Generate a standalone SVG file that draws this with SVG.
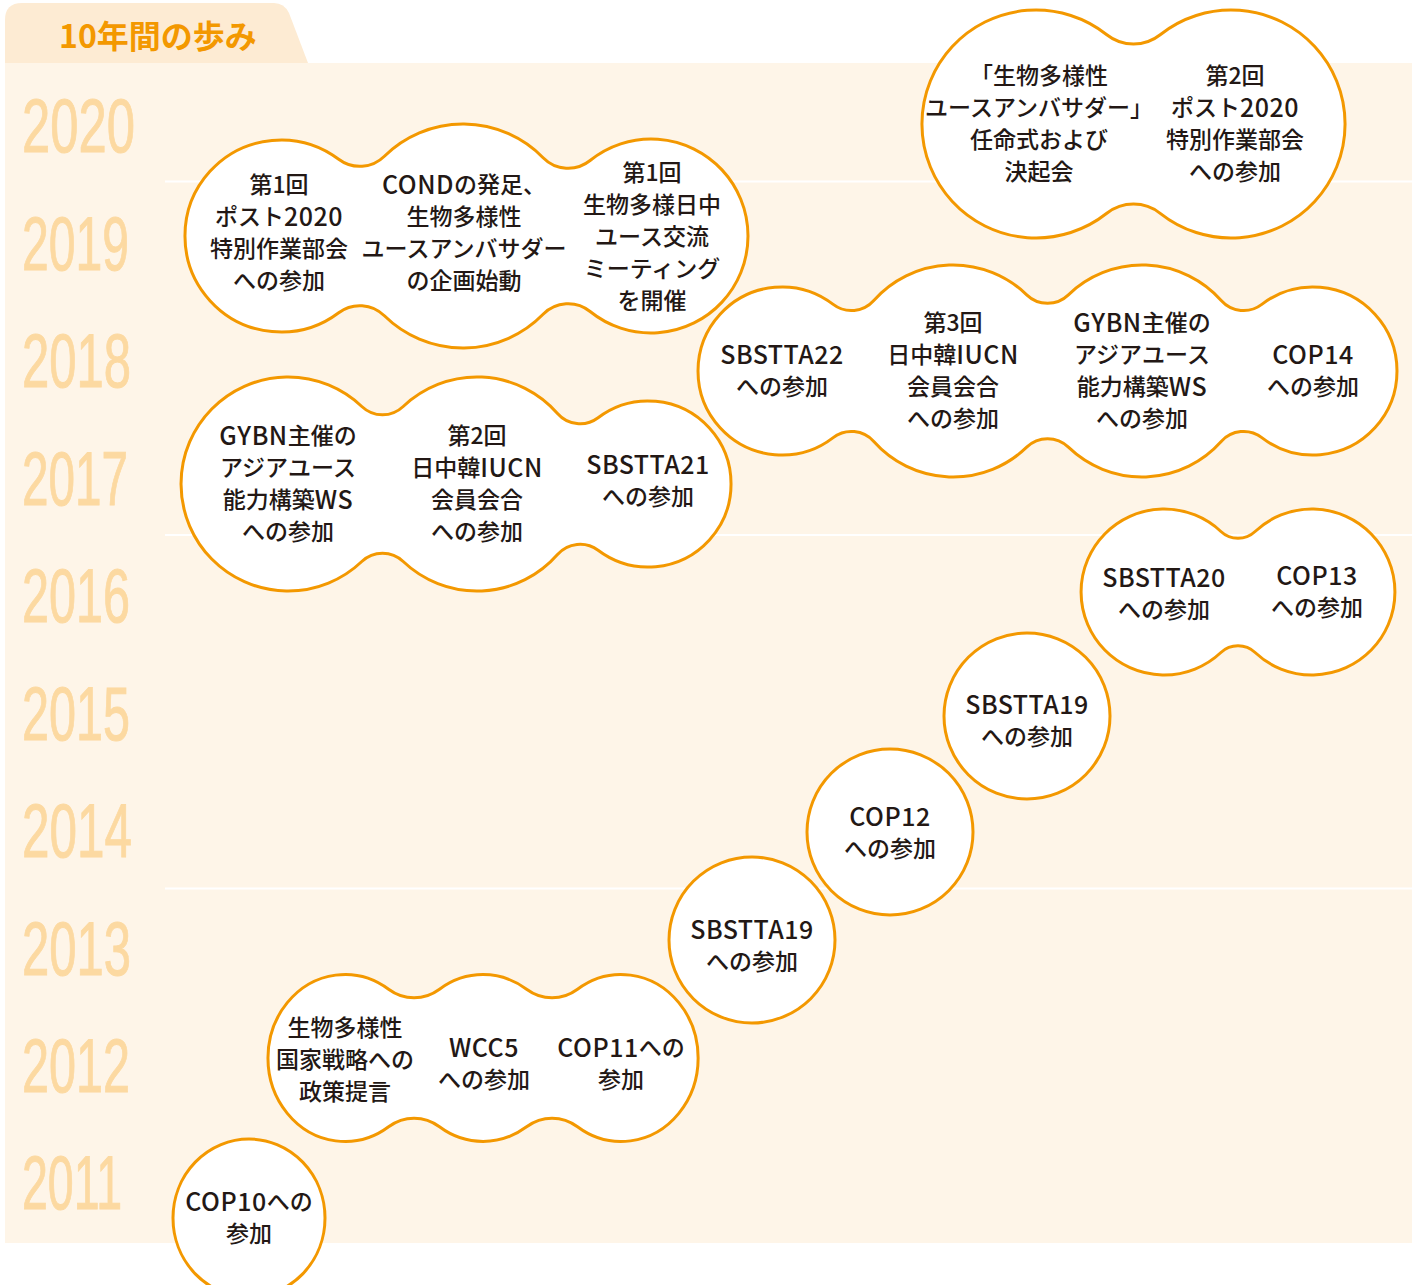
<svg xmlns="http://www.w3.org/2000/svg" width="1417" height="1285" viewBox="0 0 1417 1285">
<style>
.panel{fill:#fef5e8}
.tab{fill:#fdebd3}
.sep{stroke:#ffffff;stroke-width:2}
.title{font-family:"Noto Sans CJK JP","Noto Sans",sans-serif;font-size:32px;font-weight:700;fill:#f39800;text-anchor:middle;dominant-baseline:central}
.yr{font-family:"Liberation Sans Narrow","Liberation Sans",sans-serif;font-size:76px;fill:#fcd9a1;stroke:#fcd9a1;stroke-width:1}
.bub{fill:#ffffff;stroke:#f39800;stroke-width:3}
.t{font-family:"Noto Sans CJK JP","Noto Sans",sans-serif;font-size:23px;font-weight:500;fill:#231815;text-anchor:middle;dominant-baseline:central}
.l{font-size:25px;letter-spacing:0.5px;font-weight:500}
</style>
<rect class="panel" x="5" y="63" width="1407" height="1180"/>
<path class="tab" d="M5,63 L5,20 Q5,3 22,3 L274,3 Q284,3 289,13 L308,63 Z"/>
<text class="title" x="158" y="34">10年間の歩み</text>
<g id="separators">
<line class="sep" x1="165" y1="181.5" x2="1412" y2="181.5"/>
<line class="sep" x1="165" y1="535" x2="1412" y2="535"/>
<line class="sep" x1="165" y1="888.5" x2="1412" y2="888.5"/>
</g>
<g id="years">
<text class="yr" x="22" y="152" textLength="113" lengthAdjust="spacingAndGlyphs">2020</text>
<text class="yr" x="22" y="270" textLength="107" lengthAdjust="spacingAndGlyphs">2019</text>
<text class="yr" x="22" y="387" textLength="109" lengthAdjust="spacingAndGlyphs">2018</text>
<text class="yr" x="22" y="505" textLength="106" lengthAdjust="spacingAndGlyphs">2017</text>
<text class="yr" x="22" y="622" textLength="108" lengthAdjust="spacingAndGlyphs">2016</text>
<text class="yr" x="22" y="740" textLength="108" lengthAdjust="spacingAndGlyphs">2015</text>
<text class="yr" x="22" y="857" textLength="110" lengthAdjust="spacingAndGlyphs">2014</text>
<text class="yr" x="22" y="975" textLength="109" lengthAdjust="spacingAndGlyphs">2013</text>
<text class="yr" x="22" y="1092" textLength="108" lengthAdjust="spacingAndGlyphs">2012</text>
<text class="yr" x="22" y="1209" textLength="100" lengthAdjust="spacingAndGlyphs">2011</text>
</g>
<g id="bubble-2020">
<path class="bub" d="M1106.8,34.7 A43,43 0 0 0 1160.2,34.7 A114,114 0 1 1 1160.2,213.3 A43,43 0 0 0 1106.8,213.3 A114,114 0 1 1 1106.8,34.7 Z"/>
<text class="t"><tspan x="1039" y="74">「生物多様性</tspan><tspan x="1039" y="106">ユースアンバサダー」</tspan><tspan x="1039" y="138">任命式および</tspan><tspan x="1039" y="170">決起会</tspan></text>
<text class="t"><tspan x="1235" y="74">第2回</tspan><tspan x="1235" y="106">ポスト<tspan class="l">2020</tspan></tspan><tspan x="1235" y="138">特別作業部会</tspan><tspan x="1235" y="170">への参加</tspan></text>
</g>
<g id="bubble-2019">
<path class="bub" d="M338.7,159.3 A35,35 0 0 0 384.4,156.2 A112,112 0 0 1 543.1,157.7 A35,35 0 0 0 590.1,160.5 A97,97 0 1 1 590.1,311.5 A35,35 0 0 0 543.1,314.3 A112,112 0 0 1 384.4,315.8 A35,35 0 0 0 338.7,312.7 A96,96 0 1 1 338.7,159.3 Z"/>
<text class="t"><tspan x="279" y="183">第1回</tspan><tspan x="279" y="215">ポスト<tspan class="l">2020</tspan></tspan><tspan x="279" y="247">特別作業部会</tspan><tspan x="279" y="279">への参加</tspan></text>
<text class="t"><tspan x="464" y="183"><tspan class="l">COND</tspan>の発足、</tspan><tspan x="464" y="215">生物多様性</tspan><tspan x="464" y="247">ユースアンバサダー</tspan><tspan x="464" y="279">の企画始動</tspan></text>
<text class="t"><tspan x="652" y="171">第1回</tspan><tspan x="652" y="203">生物多様日中</tspan><tspan x="652" y="235">ユース交流</tspan><tspan x="652" y="267">ミーティング</tspan><tspan x="652" y="299">を開催</tspan></text>
</g>
<g id="bubble-2018">
<path class="bub" d="M833.2,304.4 A30,30 0 0 0 873.8,300.5 A106,106 0 0 1 1026.7,294.8 A30,30 0 0 0 1068.4,294.8 A106,106 0 0 1 1221.2,300.5 A30,30 0 0 0 1261.8,304.4 A84,84 0 1 1 1261.8,437.6 A30,30 0 0 0 1221.2,441.5 A106,106 0 0 1 1068.4,447.2 A30,30 0 0 0 1026.7,447.2 A106,106 0 0 1 873.8,441.5 A30,30 0 0 0 833.2,437.6 A84,84 0 1 1 833.2,304.4 Z"/>
<text class="t"><tspan x="782" y="353" class="l">SBSTTA22</tspan><tspan x="782" y="385">への参加</tspan></text>
<text class="t"><tspan x="953" y="321">第3回</tspan><tspan x="953" y="353">日中韓<tspan class="l">IUCN</tspan></tspan><tspan x="953" y="385">会員会合</tspan><tspan x="953" y="417">への参加</tspan></text>
<text class="t"><tspan x="1142" y="321"><tspan class="l">GYBN</tspan>主催の</tspan><tspan x="1142" y="353">アジアユース</tspan><tspan x="1142" y="385">能力構築<tspan class="l">WS</tspan></tspan><tspan x="1142" y="417">への参加</tspan></text>
<text class="t"><tspan x="1313" y="353" class="l">COP14</tspan><tspan x="1313" y="385">への参加</tspan></text>
</g>
<g id="bubble-2017">
<path class="bub" d="M361.8,406.5 A30,30 0 0 0 403.2,406.5 A107,107 0 0 1 557.5,413.5 A30,30 0 0 0 598.1,417.7 A83,83 0 1 1 598.1,550.3 A30,30 0 0 0 557.5,554.5 A107,107 0 0 1 403.2,561.5 A30,30 0 0 0 361.8,561.5 A107,107 0 1 1 361.8,406.5 Z"/>
<text class="t"><tspan x="288" y="434"><tspan class="l">GYBN</tspan>主催の</tspan><tspan x="288" y="466">アジアユース</tspan><tspan x="288" y="498">能力構築<tspan class="l">WS</tspan></tspan><tspan x="288" y="530">への参加</tspan></text>
<text class="t"><tspan x="477" y="434">第2回</tspan><tspan x="477" y="466">日中韓<tspan class="l">IUCN</tspan></tspan><tspan x="477" y="498">会員会合</tspan><tspan x="477" y="530">への参加</tspan></text>
<text class="t"><tspan x="648" y="463" class="l">SBSTTA21</tspan><tspan x="648" y="495">への参加</tspan></text>
</g>
<g id="bubble-2016">
<path class="bub" d="M1220.9,531.5 A25,25 0 0 0 1255.1,531.5 A83,83 0 1 1 1255.1,652.5 A25,25 0 0 0 1220.9,652.5 A83,83 0 1 1 1220.9,531.5 Z"/>
<text class="t"><tspan x="1164" y="576" class="l">SBSTTA20</tspan><tspan x="1164" y="608">への参加</tspan></text>
<text class="t"><tspan x="1317" y="574" class="l">COP13</tspan><tspan x="1317" y="606">への参加</tspan></text>
</g>
<g id="bubble-2015">
<circle class="bub" cx="1027" cy="716" r="83"/>
<text class="t"><tspan x="1027" y="703" class="l">SBSTTA19</tspan><tspan x="1027" y="735">への参加</tspan></text>
</g>
<g id="bubble-2014">
<circle class="bub" cx="890" cy="832" r="83"/>
<text class="t"><tspan x="890" y="815" class="l">COP12</tspan><tspan x="890" y="847">への参加</tspan></text>
</g>
<g id="bubble-2013">
<circle class="bub" cx="752" cy="940" r="83"/>
<text class="t"><tspan x="752" y="928" class="l">SBSTTA19</tspan><tspan x="752" y="960">への参加</tspan></text>
</g>
<g id="bubble-2012">
<path class="bub" d="M388.6,989.2 A45,48.8 0 0 0 439.5,989.2 A77,83.5 0 0 1 526.6,989.2 A45,48.8 0 0 0 577.5,989.2 A77,83.5 0 1 1 577.5,1126.8 A45,48.8 0 0 0 526.6,1126.8 A77,83.5 0 0 1 439.5,1126.8 A45,48.8 0 0 0 388.6,1126.8 A77,83.5 0 1 1 388.6,989.2 Z"/>
<text class="t"><tspan x="345" y="1026">生物多様性</tspan><tspan x="345" y="1058">国家戦略への</tspan><tspan x="345" y="1090">政策提言</tspan></text>
<text class="t"><tspan x="484" y="1046" class="l">WCC5</tspan><tspan x="484" y="1078">への参加</tspan></text>
<text class="t"><tspan x="621" y="1046"><tspan class="l">COP11</tspan>への</tspan><tspan x="621" y="1078">参加</tspan></text>
</g>
<g id="bubble-2011">
<ellipse class="bub" cx="249" cy="1218" rx="76" ry="79"/>
<text class="t"><tspan x="249" y="1200"><tspan class="l">COP10</tspan>への</tspan><tspan x="249" y="1232">参加</tspan></text>
</g>
</svg>
